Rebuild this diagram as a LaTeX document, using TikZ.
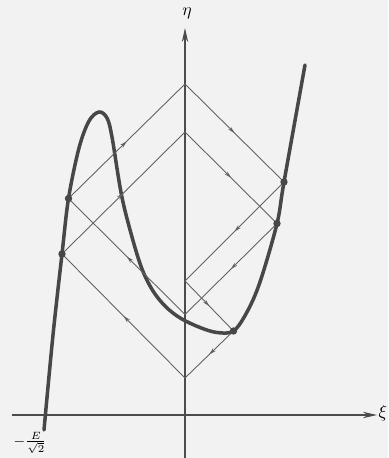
\documentclass[tikz,border=0pt]{standalone}
\usepackage{amsmath,amssymb}
\usetikzlibrary{arrows.meta,decorations.markings}

\tikzset{
  charline/.style={draw=black!62,line width=0.5pt,postaction={decorate},
    decoration={markings,mark=at position 0.5 with {\arrow{Stealth[length=4pt,width=2.2pt]}}}},
  curvedot/.style={circle,fill=black!72,inner sep=0pt,minimum size=4.2pt},
  axisline/.style={draw=black!70,line width=0.8pt,-{Stealth[length=8pt,width=3.6pt]}},
}

\begin{document}
\begin{tikzpicture}[>=Stealth]
            \fill [black!5] (-3.7,-0.86) rectangle (4.06,8.3);
            \useasboundingbox (-3.7,-0.86) rectangle (4.06,8.3);
            % axes
            \coordinate (ybot) at (0,-0.86);
            \coordinate (ytop) at (0,7.74);
            \coordinate (xleft) at (-3.46,0);
            \coordinate (xright) at (3.84,0);
            \draw [axisline] (ybot) -- (ytop);
            \draw [axisline] (xleft) -- (xright);
            \node (eta) at (0.04,8.04) {$\eta$};
            \node [anchor=west,inner sep=0.5pt] (xi) at (3.85,0.04) {$\xi$};
            \node [font=\footnotesize,inner sep=1pt] (lbl) at (-3.1,-0.56) {$-\frac{E}{\sqrt{2}}$};
            % points on the eta axis
            \coordinate (T1) at (0,6.62);
            \coordinate (T2) at (0,5.66);
            \coordinate (M1) at (0,2.68);
            \coordinate (M2) at (0,2.01);
            \coordinate (M3) at (0,0.74);
            % points on the curve
            \coordinate (A1) at (-2.33,4.33);
            \coordinate (A2) at (-2.46,3.22);
            \coordinate (B1) at (1.98,4.66);
            \coordinate (B2) at (1.84,3.83);
            \coordinate (C) at (0.97,1.68);
            % characteristic
            \draw [line width=2pt,black!72,line cap=round] plot [smooth,tension=0.55] coordinates {
                (-2.82,-0.30) (-2.64,1.6) (A2) (A1) (-2.12,5.34) (-1.92,5.88) (-1.72,6.06)
                (-1.56,5.94) (-1.46,5.56) (-1.27,4.40) (-1.06,3.56) (-0.86,2.92)
                (-0.64,2.48) (-0.38,2.16) (-0.08,1.93) (0.30,1.75) (0.64,1.65) (C)
                (1.24,2.06) (1.50,2.66) (B2) (B1) (2.40,7.00)};
            % reflections between the two ends
            \draw [charline] (A1) -- (T1);
            \draw [charline] (T1) -- (B1);
            \draw [charline] (B1) -- (M1);
            \draw [charline] (M1) -- (C);
            \draw [charline] (C) -- (M3);
            \draw [charline] (M3) -- (A2);
            \draw [charline] (A2) -- (T2);
            \draw [charline] (T2) -- (B2);
            \draw [charline] (B2) -- (M2);
            \draw [charline] (M2) -- (A1);
            \node [curvedot] (dA1) at (A1) {};
            \node [curvedot] (dA2) at (A2) {};
            \node [curvedot] (dB1) at (B1) {};
            \node [curvedot] (dB2) at (B2) {};
            \node [curvedot] (dC) at (C) {};
        \end{tikzpicture}
\end{document}
